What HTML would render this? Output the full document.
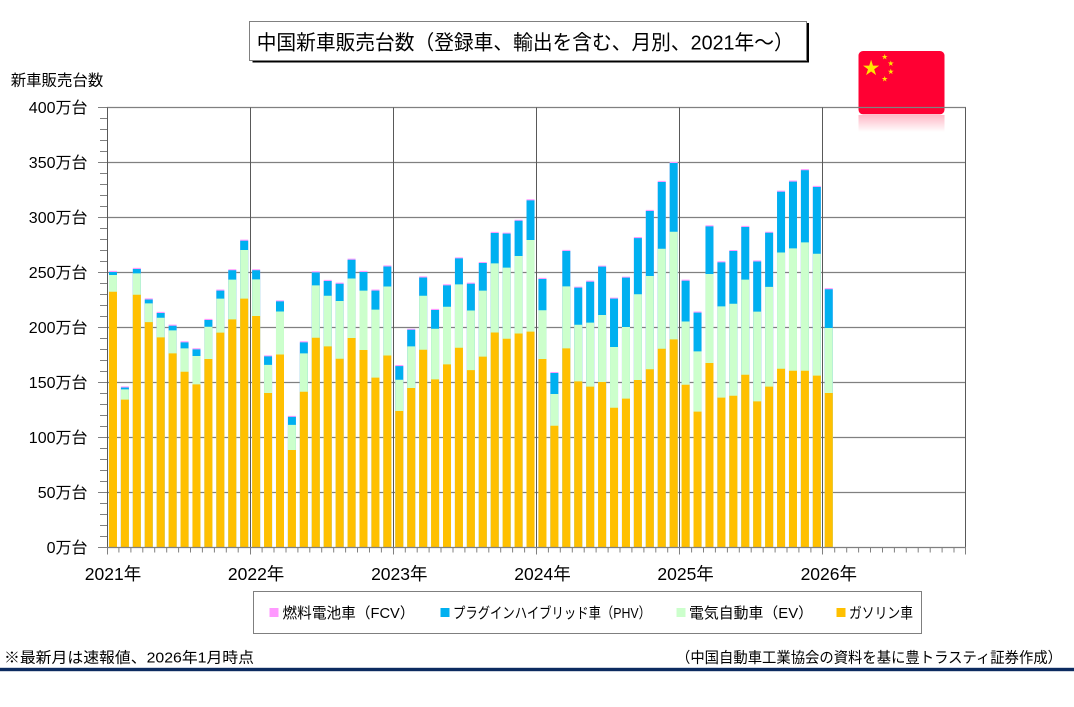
<!DOCTYPE html>
<html><head><meta charset="utf-8">
<style>
html,body{margin:0;padding:0;background:#fff;width:1074px;height:707px;overflow:hidden}
svg{display:block}
text{font-family:"Liberation Sans","Noto Sans CJK JP",sans-serif;fill:#000}
</style></head>
<body>
<svg width="1074" height="707" viewBox="0 0 1074 707" xmlns="http://www.w3.org/2000/svg">
<defs>
<linearGradient id="refl" x1="0" y1="0" x2="0" y2="1">
<stop offset="0" stop-color="#ff0033" stop-opacity="0.28"/>
<stop offset="1" stop-color="#ff0033" stop-opacity="0"/>
</linearGradient>
</defs>
<rect width="1074" height="707" fill="#fff"/>

<rect x="252.5" y="23" width="556.5" height="39.5" fill="#000"/>
<rect x="249.5" y="21.5" width="557" height="39" fill="#fff" stroke="#808080" stroke-width="1"/>
<text x="256.7" y="49.5" font-size="20.5" textLength="537" lengthAdjust="spacingAndGlyphs">中国新車販売台数（登録車、輸出を含む、月別、2021年〜）</text>

<rect x="858.5" y="51" width="86" height="63.3" rx="4.5" fill="#ff0033"/>
<rect x="858.5" y="115" width="86" height="17" fill="url(#refl)"/>
<g fill="#ffe600">
<polygon transform="translate(871.1,68.3)" points="0,-8.5 1.91,-2.63 8.08,-2.63 3.09,1 5,6.88 0,3.25 -5,6.88 -3.09,1 -8.08,-2.63 -1.91,-2.63"/>
<polygon transform="translate(884.7,56.9) scale(0.36)" points="0,-8.5 1.91,-2.63 8.08,-2.63 3.09,1 5,6.88 0,3.25 -5,6.88 -3.09,1 -8.08,-2.63 -1.91,-2.63"/>
<polygon transform="translate(890.8,63.5) scale(0.36)" points="0,-8.5 1.91,-2.63 8.08,-2.63 3.09,1 5,6.88 0,3.25 -5,6.88 -3.09,1 -8.08,-2.63 -1.91,-2.63"/>
<polygon transform="translate(890.8,71.7) scale(0.36)" points="0,-8.5 1.91,-2.63 8.08,-2.63 3.09,1 5,6.88 0,3.25 -5,6.88 -3.09,1 -8.08,-2.63 -1.91,-2.63"/>
<polygon transform="translate(884.7,79) scale(0.36)" points="0,-8.5 1.91,-2.63 8.08,-2.63 3.09,1 5,6.88 0,3.25 -5,6.88 -3.09,1 -8.08,-2.63 -1.91,-2.63"/>
</g>

<text x="10.7" y="85.5" font-size="15.5" textLength="92.6" lengthAdjust="spacingAndGlyphs">新車販売台数</text>

<path d="M107 492.5H966M107 437.5H966M107 382.5H966M107 327.5H966M107 272.5H966M107 217.5H966M107 162.5H966M107 107.5H966" stroke="#808080" stroke-width="1.2" fill="none"/>

<g transform="translate(0,547.5) scale(1,-1.1)">
<path fill="#ff99ff" d="M108.97 0h8v251.5h-8zM120.9 0h8v146.5h-8zM132.83 0h8v254.2h-8zM144.76 0h8v226.5h-8zM156.69 0h8v214.2h-8zM168.62 0h8v202.6h-8zM180.55 0h8v187.5h-8zM192.48 0h8v181.1h-8zM204.41 0h8v207.8h-8zM216.34 0h8v234.5h-8zM228.27 0h8v253h-8zM240.2 0h8v279.9h-8zM252.13 0h8v253h-8zM264.06 0h8v174.7h-8zM275.99 0h8v224.7h-8zM287.92 0h8v119.7h-8zM299.85 0h8v187.5h-8zM311.78 0h8v251.1h-8zM323.71 0h8v243.3h-8zM335.64 0h8v240.8h-8zM347.57 0h8v262.6h-8zM359.5 0h8v251.5h-8zM371.43 0h8v234.5h-8zM383.36 0h8v256.5h-8zM395.29 0h8v165.9h-8zM407.22 0h8v198.9h-8zM419.15 0h8v246.5h-8zM431.08 0h8v216.9h-8zM443.01 0h8v239.3h-8zM454.94 0h8v263.8h-8zM466.87 0h8v240.8h-8zM478.8 0h8v259.6h-8zM490.73 0h8v286.9h-8zM502.66 0h8v286.3h-8zM514.59 0h8v298h-8zM526.52 0h8v316.6h-8zM538.45 0h8v245.1h-8zM550.38 0h8v159.6h-8zM562.31 0h8v270.6h-8zM574.24 0h8v237.2h-8zM586.17 0h8v242.6h-8zM598.1 0h8v256.3h-8zM610.03 0h8v227.2h-8zM621.96 0h8v246.3h-8zM633.89 0h8v282.3h-8zM645.82 0h8v306.9h-8zM657.75 0h8v333.3h-8zM669.68 0h8v350.5h-8zM681.61 0h8v243.5h-8zM693.54 0h8v214.5h-8zM705.47 0h8v292.9h-8zM717.4 0h8v260.2h-8zM729.33 0h8v270.5h-8zM741.26 0h8v292.4h-8zM753.19 0h8v261h-8zM765.12 0h8v287.1h-8zM777.05 0h8v324.4h-8zM788.98 0h8v333.6h-8zM800.91 0h8v344h-8zM812.84 0h8v328.7h-8zM824.77 0h8v235.8h-8z"/>
<path fill="#00b0f0" d="M108.97 0h8v250.5h-8zM120.9 0h8v145.5h-8zM132.83 0h8v253.2h-8zM144.76 0h8v225.5h-8zM156.69 0h8v213.2h-8zM168.62 0h8v201.6h-8zM180.55 0h8v186.5h-8zM192.48 0h8v180.1h-8zM204.41 0h8v206.8h-8zM216.34 0h8v233.5h-8zM228.27 0h8v252h-8zM240.2 0h8v278.9h-8zM252.13 0h8v252h-8zM264.06 0h8v173.7h-8zM275.99 0h8v223.7h-8zM287.92 0h8v118.7h-8zM299.85 0h8v186.5h-8zM311.78 0h8v250.1h-8zM323.71 0h8v242.3h-8zM335.64 0h8v239.8h-8zM347.57 0h8v261.6h-8zM359.5 0h8v250.5h-8zM371.43 0h8v233.5h-8zM383.36 0h8v255.5h-8zM395.29 0h8v164.9h-8zM407.22 0h8v197.9h-8zM419.15 0h8v245.5h-8zM431.08 0h8v215.9h-8zM443.01 0h8v238.3h-8zM454.94 0h8v262.8h-8zM466.87 0h8v239.8h-8zM478.8 0h8v258.6h-8zM490.73 0h8v285.9h-8zM502.66 0h8v285.3h-8zM514.59 0h8v297h-8zM526.52 0h8v315.6h-8zM538.45 0h8v244.1h-8zM550.38 0h8v158.6h-8zM562.31 0h8v269.6h-8zM574.24 0h8v236.2h-8zM586.17 0h8v241.6h-8zM598.1 0h8v255.3h-8zM610.03 0h8v226.2h-8zM621.96 0h8v245.3h-8zM633.89 0h8v281.3h-8zM645.82 0h8v305.9h-8zM657.75 0h8v332.3h-8zM669.68 0h8v349.5h-8zM681.61 0h8v242.5h-8zM693.54 0h8v213.5h-8zM705.47 0h8v291.9h-8zM717.4 0h8v259.2h-8zM729.33 0h8v269.5h-8zM741.26 0h8v291.4h-8zM753.19 0h8v260h-8zM765.12 0h8v286.1h-8zM777.05 0h8v323.4h-8zM788.98 0h8v332.6h-8zM800.91 0h8v343h-8zM812.84 0h8v327.7h-8zM824.77 0h8v234.8h-8z"/>
<path fill="#ccffcc" d="M108.97 0h8v247.7h-8zM120.9 0h8v143.8h-8zM132.83 0h8v249.2h-8zM144.76 0h8v221.9h-8zM156.69 0h8v208.9h-8zM168.62 0h8v197.4h-8zM180.55 0h8v181h-8zM192.48 0h8v174.1h-8zM204.41 0h8v200.7h-8zM216.34 0h8v226.2h-8zM228.27 0h8v243.5h-8zM240.2 0h8v270.5h-8zM252.13 0h8v243.7h-8zM264.06 0h8v166h-8zM275.99 0h8v214.6h-8zM287.92 0h8v111.5h-8zM299.85 0h8v176.5h-8zM311.78 0h8v238.3h-8zM323.71 0h8v228.9h-8zM335.64 0h8v224.1h-8zM347.57 0h8v244.6h-8zM359.5 0h8v233.5h-8zM371.43 0h8v216.3h-8zM383.36 0h8v237.3h-8zM395.29 0h8v152.5h-8zM407.22 0h8v182.8h-8zM419.15 0h8v228.9h-8zM431.08 0h8v198.9h-8zM443.01 0h8v218.9h-8zM454.94 0h8v239.2h-8zM466.87 0h8v215.5h-8zM478.8 0h8v233.5h-8zM490.73 0h8v258.3h-8zM502.66 0h8v254.4h-8zM514.59 0h8v265h-8zM526.52 0h8v279.5h-8zM538.45 0h8v215.7h-8zM550.38 0h8v139.5h-8zM562.31 0h8v237.4h-8zM574.24 0h8v202.5h-8zM586.17 0h8v204.4h-8zM598.1 0h8v211.4h-8zM610.03 0h8v182.3h-8zM621.96 0h8v200.5h-8zM633.89 0h8v230.2h-8zM645.82 0h8v246.8h-8zM657.75 0h8v271.6h-8zM669.68 0h8v287.1h-8zM681.61 0h8v205.5h-8zM693.54 0h8v178.3h-8zM705.47 0h8v248.6h-8zM717.4 0h8v219.2h-8zM729.33 0h8v221.6h-8zM741.26 0h8v243.5h-8zM753.19 0h8v214.4h-8zM765.12 0h8v236.9h-8zM777.05 0h8v268.2h-8zM788.98 0h8v271.9h-8zM800.91 0h8v277.4h-8zM812.84 0h8v267.1h-8zM824.77 0h8v199.5h-8z"/>
<path fill="#ffc000" d="M108.97 0h8v232.5h-8zM120.9 0h8v134.4h-8zM132.83 0h8v229.8h-8zM144.76 0h8v204.9h-8zM156.69 0h8v191h-8zM168.62 0h8v176.5h-8zM180.55 0h8v159.8h-8zM192.48 0h8v148.3h-8zM204.41 0h8v171.4h-8zM216.34 0h8v195.3h-8zM228.27 0h8v207.4h-8zM240.2 0h8v226.2h-8zM252.13 0h8v210.5h-8zM264.06 0h8v140.5h-8zM275.99 0h8v175.5h-8zM287.92 0h8v88.6h-8zM299.85 0h8v141.6h-8zM311.78 0h8v190.7h-8zM323.71 0h8v182.8h-8zM335.64 0h8v171.6h-8zM347.57 0h8v190.5h-8zM359.5 0h8v179.5h-8zM371.43 0h8v154.4h-8zM383.36 0h8v174.6h-8zM395.29 0h8v124.1h-8zM407.22 0h8v145h-8zM419.15 0h8v179.8h-8zM431.08 0h8v152.8h-8zM443.01 0h8v166.5h-8zM454.94 0h8v181.6h-8zM466.87 0h8v161.3h-8zM478.8 0h8v173.5h-8zM490.73 0h8v195.5h-8zM502.66 0h8v189.8h-8zM514.59 0h8v194.6h-8zM526.52 0h8v196.2h-8zM538.45 0h8v171.4h-8zM550.38 0h8v110.7h-8zM562.31 0h8v181h-8zM574.24 0h8v151h-8zM586.17 0h8v146.2h-8zM598.1 0h8v150.5h-8zM610.03 0h8v127.1h-8zM621.96 0h8v135.3h-8zM633.89 0h8v152.3h-8zM645.82 0h8v162h-8zM657.75 0h8v180.7h-8zM669.68 0h8v189.2h-8zM681.61 0h8v148h-8zM693.54 0h8v123.5h-8zM705.47 0h8v167.7h-8zM717.4 0h8v136.2h-8zM729.33 0h8v138h-8zM741.26 0h8v157.1h-8zM753.19 0h8v132.8h-8zM765.12 0h8v146.2h-8zM777.05 0h8v162.5h-8zM788.98 0h8v160.7h-8zM800.91 0h8v160.7h-8zM812.84 0h8v156.2h-8zM824.77 0h8v140.5h-8z"/>
</g>

<path d="M250.5 107.5V547.5M393.5 107.5V547.5M536.5 107.5V547.5M679.5 107.5V547.5M822.5 107.5V547.5M965.5 107.5V547.5M107.5 107.5V547.5" stroke="#595959" stroke-width="1" fill="none"/>
<path d="M107 547.5H966" stroke="#808080" stroke-width="1.2" fill="none"/>

<path d="M100 536.5H107M100 525.5H107M100 514.5H107M100 503.5H107M100 481.5H107M100 470.5H107M100 459.5H107M100 448.5H107M100 426.5H107M100 415.5H107M100 404.5H107M100 393.5H107M100 371.5H107M100 360.5H107M100 349.5H107M100 338.5H107M100 316.5H107M100 305.5H107M100 294.5H107M100 283.5H107M100 261.5H107M100 250.5H107M100 239.5H107M100 228.5H107M100 206.5H107M100 195.5H107M100 184.5H107M100 173.5H107M100 151.5H107M100 140.5H107M100 129.5H107M100 118.5H107M98 547.5H107M98 492.5H107M98 437.5H107M98 382.5H107M98 327.5H107M98 272.5H107M98 217.5H107M98 162.5H107M98 107.5H107" stroke="#808080" stroke-width="1" fill="none"/>

<path d="M107.5 547.5V554.5M118.9 547.5V552.5M130.9 547.5V552.5M142.8 547.5V552.5M154.7 547.5V552.5M166.7 547.5V552.5M178.6 547.5V552.5M190.5 547.5V552.5M202.4 547.5V552.5M214.4 547.5V552.5M226.3 547.5V552.5M238.2 547.5V552.5M250.5 547.5V554.5M262.1 547.5V552.5M274 547.5V552.5M286 547.5V552.5M297.9 547.5V552.5M309.8 547.5V552.5M321.7 547.5V552.5M333.7 547.5V552.5M345.6 547.5V552.5M357.5 547.5V552.5M369.5 547.5V552.5M381.4 547.5V552.5M393.5 547.5V554.5M405.3 547.5V552.5M417.2 547.5V552.5M429.1 547.5V552.5M441 547.5V552.5M453 547.5V552.5M464.9 547.5V552.5M476.8 547.5V552.5M488.8 547.5V552.5M500.7 547.5V552.5M512.6 547.5V552.5M524.6 547.5V552.5M536.5 547.5V554.5M548.4 547.5V552.5M560.3 547.5V552.5M572.3 547.5V552.5M584.2 547.5V552.5M596.1 547.5V552.5M608.1 547.5V552.5M620 547.5V552.5M631.9 547.5V552.5M643.9 547.5V552.5M655.8 547.5V552.5M667.7 547.5V552.5M679.5 547.5V554.5M691.6 547.5V552.5M703.5 547.5V552.5M715.4 547.5V552.5M727.4 547.5V552.5M739.3 547.5V552.5M751.2 547.5V552.5M763.2 547.5V552.5M775.1 547.5V552.5M787 547.5V552.5M798.9 547.5V552.5M810.9 547.5V552.5M822.5 547.5V554.5M834.7 547.5V552.5M846.7 547.5V552.5M858.6 547.5V552.5M870.5 547.5V552.5M882.5 547.5V552.5M894.4 547.5V552.5M906.3 547.5V552.5M918.2 547.5V552.5M930.2 547.5V552.5M942.1 547.5V552.5M954 547.5V552.5M965.5 547.5V554.5" stroke="#808080" stroke-width="1" fill="none"/>

<g font-size="16" text-anchor="end">
<text x="87.5" y="113.2">400万台</text>
<text x="87.5" y="168.2">350万台</text>
<text x="87.5" y="223.2">300万台</text>
<text x="87.5" y="278.2">250万台</text>
<text x="87.5" y="333.2">200万台</text>
<text x="87.5" y="388.2">150万台</text>
<text x="87.5" y="443.2">100万台</text>
<text x="87.5" y="498.2">50万台</text>
<text x="87.5" y="553.2">0万台</text>
</g>

<g font-size="17.5" text-anchor="middle">
<text x="113" y="580">2021年</text>
<text x="256.1" y="580">2022年</text>
<text x="399.3" y="580">2023年</text>
<text x="542.5" y="580">2024年</text>
<text x="685.6" y="580">2025年</text>
<text x="828.8" y="580">2026年</text>
</g>

<rect x="253.5" y="591.5" width="668" height="42" fill="#fff" stroke="#7f7f7f" stroke-width="1"/>
<rect x="269.5" y="608" width="9" height="9" fill="#ff99ff"/>
<text x="282.5" y="618" font-size="15" textLength="132" lengthAdjust="spacingAndGlyphs">燃料電池車（FCV）</text>
<rect x="440.5" y="608" width="9" height="9" fill="#00b0f0"/>
<text x="453" y="618" font-size="15" textLength="198" lengthAdjust="spacingAndGlyphs">プラグインハイブリッド車（PHV）</text>
<rect x="676.5" y="608" width="9" height="9" fill="#ccffcc"/>
<text x="689" y="618" font-size="15" textLength="124" lengthAdjust="spacingAndGlyphs">電気自動車（EV）</text>
<rect x="836.5" y="608" width="9" height="9" fill="#ffc000"/>
<text x="849" y="618" font-size="15" textLength="64" lengthAdjust="spacingAndGlyphs">ガソリン車</text>

<text x="4" y="662.5" font-size="15" textLength="250" lengthAdjust="spacingAndGlyphs">※最新月は速報値、2026年1月時点</text>
<text x="676" y="662.5" font-size="15" textLength="386" lengthAdjust="spacingAndGlyphs">（中国自動車工業協会の資料を基に豊トラスティ証券作成）</text>

<rect x="0" y="667.8" width="1074" height="3.4" fill="#0c2b60"/>
</svg>
</body></html>
